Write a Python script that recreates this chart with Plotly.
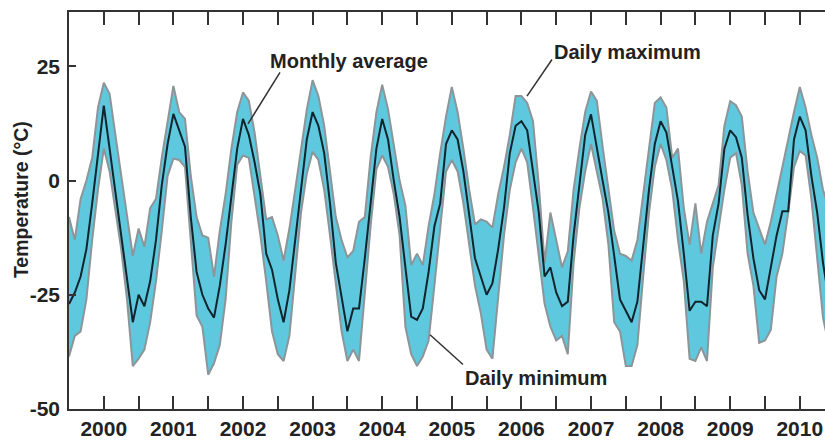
import plotly.graph_objects as go

# Monthly values, Jan 2000 .. Dec 2010 (12 values per year)
years = list(range(2000, 2011))

avg_by_year = [
    [-27, -24.5, -21, -15, -5, 6, 16.4, 7, -2.5, -12, -21, -31],          # 2000
    [-25, -27.5, -22, -13, -1, 8, 14.6, 11, 7.4, -8, -20, -25],           # 2001
    [-28, -30, -23, -14, -4, 7, 13.5, 10, 4, -3, -16, -19.5],             # 2002
    [-26, -31, -24, -13, -2, 9, 15, 12, 6, -5, -18, -26],                 # 2003
    [-33, -28, -28, -17, -5, 7, 13.5, 9, 0, -8, -19, -29.8],              # 2004
    [-30.5, -28, -20, -10, -5, 8, 11, 9, 2, -8, -17, -21],                # 2005
    [-25, -22.5, -15, -6, 6, 12, 13, 11, 2, -7, -21, -19],                # 2006
    [-24.5, -27.5, -26.5, -12, -1, 10, 14.5, 7, 0, -7, -17, -26],         # 2007
    [-28.5, -31, -26.5, -14, -2, 8, 13, 10.5, 3, -4.5, -16, -28.5],       # 2008
    [-26.5, -26.5, -27.5, -12, -5, 7, 11, 9.5, 5, -7.5, -17, -24],        # 2009
    [-26, -19, -12, -6.7, -6.7, 9, 14, 11, 1, -7, -18, -26],              # 2010
]

max_by_year = [
    [-8, -13, -4, 0, 5, 16, 21.4, 19, 10, 1.5, -7, -16.5],
    [-10.5, -14.5, -6, -4, 5, 13, 20.7, 15, 13.5, 1, -8, -12],
    [-12.5, -21, -11, -3, 7, 15, 19.3, 17.5, 10.5, 1, -8.5, -8],
    [-12, -17.5, -10.5, -2, 7, 15.5, 22, 18.5, 12, 2, -8, -13],
    [-16.8, -15.4, -9, -8, 5, 15, 21, 15.6, 8, 0, -5.5, -18.5],
    [-16, -18.5, -10, -3, 6, 14, 20.5, 15, 7, -2, -9.6, -8.5],
    [-9, -10.3, -3, 3, 10, 18.5, 18.5, 17, 13, -1, -18, -7],
    [-13, -19, -15.5, -2, 7, 15, 19.5, 17.5, 7.5, -2, -11, -16],
    [-16.5, -17.5, -13, -3, 7, 17, 18.2, 16, 5, 7, -6, -14],
    [-5, -16, -9, -5, -1, 12, 17.4, 16.5, 14, 2, -7, -10.5],
    [-14, -9, -3, 3, 9.5, 15, 20.5, 16, 10, 5, -2, -6],
]

min_by_year = [
    [-38.5, -34, -33, -26, -13, -2, 7, 2, -6.5, -15, -26, -40.6],
    [-39, -37, -31, -22, -11, 1, 4.8, 4.5, 3, -14, -29.5, -32],
    [-42.5, -40, -36, -26, -9, 3.5, 5.5, 5, -3, -12, -22, -33],
    [-38, -39.5, -34, -21, -7, 1.5, 6.3, 4.5, -2, -12, -23, -33],
    [-39.5, -37, -39.5, -25, -10, 2.5, 5.5, 3, -3, -12, -32, -38],
    [-40.6, -38.5, -35, -23, -11, 2, 4.5, 2, -5, -14, -23, -29],
    [-37, -39, -26, -12, -2, 4, 7, 4, -6, -16, -27, -32],
    [-35, -34, -38, -18, -6, 2, 8, 2, -4, -14, -31, -33],
    [-40.6, -40.6, -36, -21, -7, 3, 8, 4.5, -2, -13, -22, -39],
    [-39.5, -36.5, -39.5, -19, -10, -2, 5, 6, -1, -16, -23, -35.5],
    [-35, -32.7, -21, -16, -7, 3, 6.5, 5.5, -4, -17, -30, -36],
]

year_labels = [str(y) for y in years]

# flatten to monthly series with decimal-year positions
x_vals, avg_vals, max_vals, min_vals = [], [], [], []
for k, y in enumerate(years):
    for m in range(12):
        x_vals.append(y + m / 12)
        avg_vals.append(avg_by_year[k][m])
        max_vals.append(max_by_year[k][m])
        min_vals.append(min_by_year[k][m])

FILL = "#5ec8df"
EDGE = "#8c9598"
AVG = "#10242c"
TXT = "#222222"
FONT = "Liberation Sans, Arial, sans-serif"

fig = go.Figure()
fig.add_trace(go.Scatter(x=x_vals, y=max_vals, mode="lines",
                         line=dict(color=EDGE, width=2), hoverinfo="skip",
                         showlegend=False))
fig.add_trace(go.Scatter(x=x_vals, y=min_vals, mode="lines", fill="tonexty",
                         fillcolor=FILL, line=dict(color=EDGE, width=2),
                         hoverinfo="skip", showlegend=False))
fig.add_trace(go.Scatter(x=x_vals, y=avg_vals, mode="lines",
                         line=dict(color=AVG, width=2), showlegend=False))

# pixel helpers for label placement (plot area: x 69..825, y 12..413)
X0, X1 = 2000.0, 2000.0 + 756 / 69.6
Y0, Y1 = -50.0, 36.9


def px2x(px):
    return X0 + (px - 69) / 756 * (X1 - X0)


def py2y(py):
    return Y0 + (413 - py) / 401 * (Y1 - Y0)


tickvals, ticktext = [], []
for y in years:
    tickvals += [y + 0.5, y + 1.0]
    ticktext += [str(y), ""]

fig.update_layout(
    width=825, height=440,
    margin=dict(l=69, r=0, t=12, b=27),
    paper_bgcolor="white", plot_bgcolor="white",
    font=dict(family=FONT, color=TXT),
    xaxis=dict(range=[X0, X1], tickvals=tickvals, ticktext=ticktext,
               ticks="inside", ticklen=13, tickwidth=1.5, tickcolor="#333",
               showline=True, linecolor="#333", linewidth=1.5, mirror="ticks",
               showgrid=False, zeroline=False,
               tickfont=dict(family=FONT, size=21, color=TXT, weight="bold")),
    yaxis=dict(range=[Y0, Y1], tickvals=[-50, -25, 0, 25],
               ticktext=["-50", "-25", "0", "25"],
               ticks="inside", ticklen=7, tickwidth=1.5, tickcolor="#333",
               showline=True, linecolor="#333", linewidth=1.5,
               showgrid=False, zeroline=False, ticklabelstandoff=3,
               tickfont=dict(family=FONT, size=21, color=TXT, weight="bold")),
)

fig.add_annotation(text="Temperature (°C)", xref="paper", yref="paper",
                   x=(21 - 69) / 756, y=(413 - 202) / 401, textangle=-90,
                   showarrow=False, xanchor="center", yanchor="middle",
                   font=dict(family=FONT, size=19.5, color=TXT, weight="bold"))

labels = [
    ("Monthly average", 349, 61, (280, 73), (248, 125)),
    ("Daily maximum", 627, 52, (552, 60), (527, 97)),
    ("Daily minimum", 536, 382, (463, 368), (430, 338)),
]
for text, cx, cy, p0, p1 in labels:
    fig.add_annotation(text=text, x=px2x(cx), y=py2y(cy), showarrow=False,
                       xanchor="center", yanchor="middle",
                       font=dict(family=FONT, size=20, color=TXT, weight="bold"))
    fig.add_shape(type="line", x0=px2x(p0[0]), y0=py2y(p0[1]),
                  x1=px2x(p1[0]), y1=py2y(p1[1]),
                  line=dict(color="#333", width=1.5))

fig.write_html("out.html")
